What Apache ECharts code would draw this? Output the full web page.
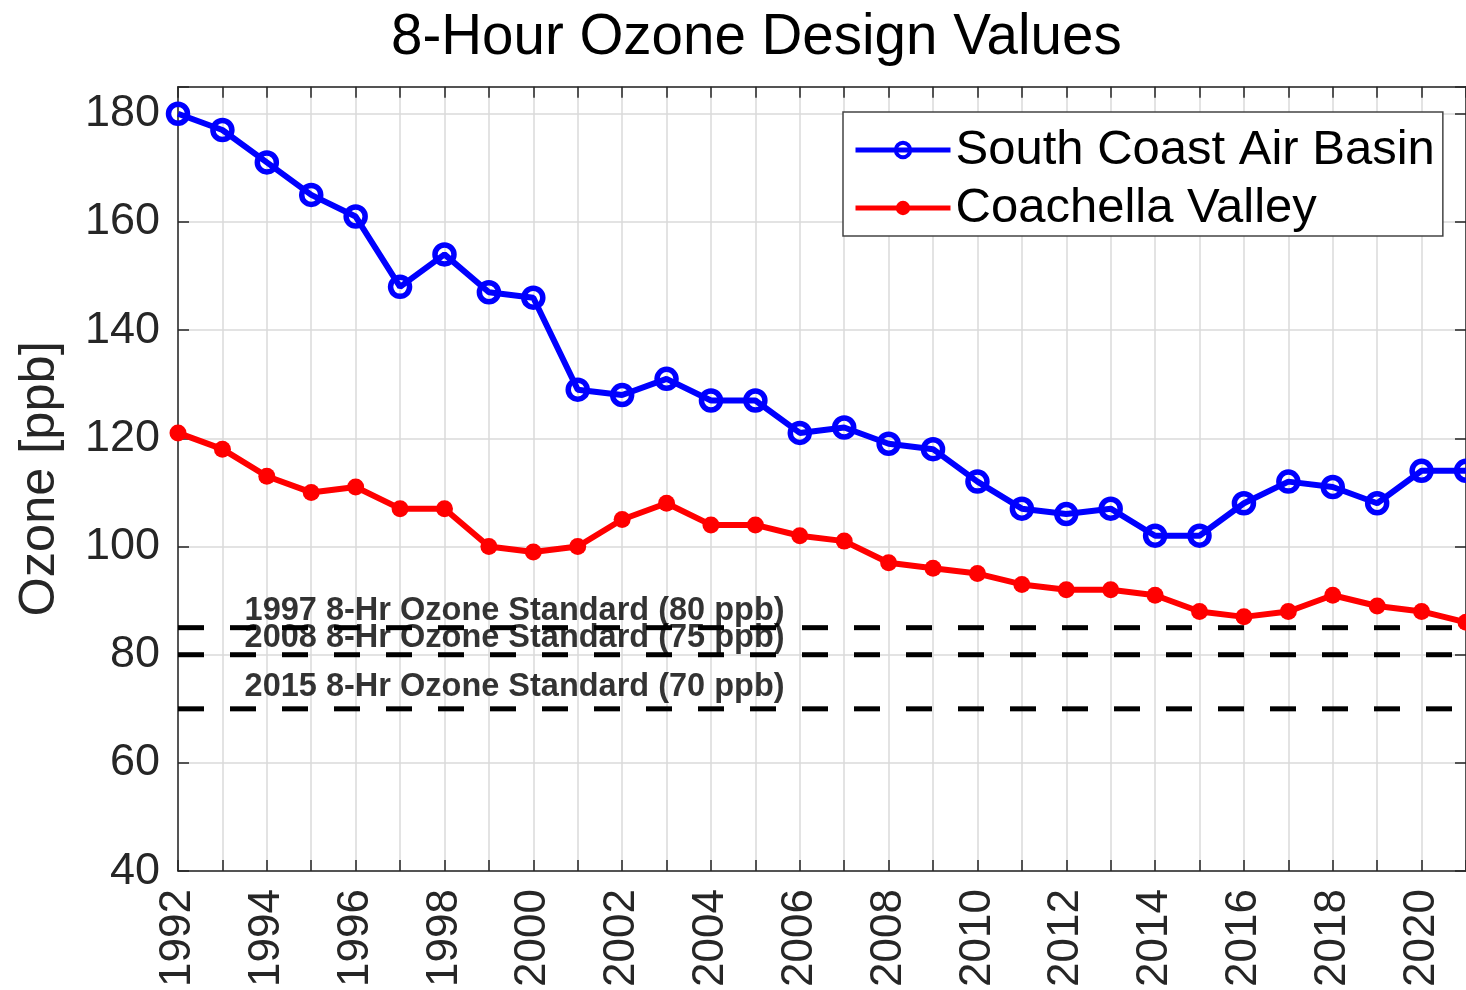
<!DOCTYPE html>
<html>
<head>
<meta charset="utf-8">
<script src="https://cdn.jsdelivr.net/npm/echarts@6/dist/echarts.min.js"></script>
<style>
html,body{margin:0;padding:0;background:#fff;}
#main{width:1466px;height:990px;}
</style>
</head>
<body>
<div id="main"></div>
<script>
const years = [1992,1993,1994,1995,1996,1997,1998,1999,2000,2001,2002,2003,2004,2005,2006,2007,2008,2009,2010,2011,2012,2013,2014,2015,2016,2017,2018,2019,2020,2021];
const southCoast = [180,177,171,165,161,148,154,147,146,129,128,131,127,127,121,122,119,118,112,107,106,107,102,102,108,112,111,108,114,114];
const coachella = [121,118,113,110,111,107,107,100,99,100,105,108,104,104,102,101,97,96,95,93,92,92,91,88,87,88,91,89,88,86];
const standardLevels = [85, 80, 70];
const standardLabels = ['1997 8-Hr Ozone Standard (80 ppb)', '2008 8-Hr Ozone Standard (75 ppb)', '2015 8-Hr Ozone Standard (70 ppb)'];
const standardLabelY = [88, 83, 74];
const standardLabelX = 1993.5;
const xMin = 1992, xMax = 2021;
const yMin = 40, yMax = 185;

const axisColor = '#262626';
const gridColor = '#dadada';
const font = '"Liberation Sans", Arial, sans-serif';

const series = [];
standardLevels.forEach(function(v, i){
  series.push({
    type: 'line', silent: true, symbol: 'none', z: 1,
    data: [[xMin, v], [xMax, v]],
    lineStyle: {color: '#000', width: 5, type: [26, 26]}
  });
  series.push({
    type: 'scatter', silent: true, symbolSize: 0, z: 5,
    data: [[standardLabelX, standardLabelY[i]]],
    label: {
      show: true, position: 'right', distance: 0,
      formatter: standardLabels[i],
      fontFamily: '"Liberation Sans Narrow", "Arial Narrow", "Liberation Sans", Arial, sans-serif',
      fontWeight: 'bold', fontSize: 32.5, color: '#000'
    }
  });
});
series.push({
  name: 'South Coast Air Basin', type: 'line', z: 3,
  data: years.map(function(y, i){ return [y, southCoast[i]]; }),
  symbol: 'circle', symbolSize: 19,
  lineStyle: {color: '#0000ff', width: 6},
  itemStyle: {color: 'rgba(0,0,0,0)', borderColor: '#0000ff', borderWidth: 5.5},
  color: '#0000ff'
});
series.push({
  name: 'Coachella Valley', type: 'line', z: 3,
  data: years.map(function(y, i){ return [y, coachella[i]]; }),
  symbol: 'circle', symbolSize: 17,
  lineStyle: {color: '#ff0000', width: 6},
  itemStyle: {color: '#ff0000'},
  color: '#ff0000'
});

const chart = echarts.init(document.getElementById('main'));
chart.setOption({
  animation: false,
  backgroundColor: '#fff',
  title: {
    text: '8-Hour Ozone Design Values',
    left: 386, top: 5,
    textStyle: {fontFamily: font, fontSize: 56.5, fontWeight: 'normal', color: '#000'}
  },
  legend: {
    left: 843, top: 112, orient: 'vertical',
    data: [
      {name: 'South Coast Air Basin', itemStyle: {borderWidth: 4}},
      {name: 'Coachella Valley', itemStyle: {borderWidth: 0}}
    ],
    backgroundColor: '#fff', borderColor: '#444', borderWidth: 1.5, borderRadius: 0,
    padding: [12, 8, 2, 10], itemGap: 6,
    itemWidth: 95, itemHeight: 18,
    lineStyle: {width: 5},
    textStyle: {fontFamily: font, fontSize: 49, color: '#000', lineHeight: 52}
  },
  grid: {left: 178, right: -2.5, top: 86.7, bottom: 118.3, containLabel: false},
  xAxis: [{
    type: 'value', min: xMin, max: xMax, interval: 1, position: 'bottom',
    axisLine: {show: true, lineStyle: {color: axisColor, width: 1.5}},
    axisTick: {show: true, inside: true, length: 11, lineStyle: {color: axisColor, width: 1.5}},
    axisLabel: {
      rotate: 90, margin: 18, color: axisColor, fontFamily: font, fontSize: 44,
      formatter: function(v){ return (v % 2 === 0) ? String(v) : ''; }
    },
    splitLine: {show: true, lineStyle: {color: gridColor, width: 1.5}}
  }, {
    type: 'value', min: xMin, max: xMax, interval: 1, position: 'top',
    axisLine: {show: true, onZero: false, lineStyle: {color: axisColor, width: 1.5}},
    axisTick: {show: true, inside: true, length: 11, lineStyle: {color: axisColor, width: 1.5}},
    axisLabel: {show: false}, splitLine: {show: false}
  }],
  yAxis: [{
    type: 'value', min: yMin, max: yMax, interval: 20, position: 'left',
    name: 'Ozone [ppb]', nameLocation: 'middle', nameGap: 112, nameRotate: 90,
    nameTextStyle: {fontFamily: font, fontSize: 50.5, color: axisColor},
    axisLine: {show: true, lineStyle: {color: axisColor, width: 1.5}},
    axisTick: {show: true, inside: true, length: 11, lineStyle: {color: axisColor, width: 1.5}},
    axisLabel: {
      margin: 18, color: axisColor, fontFamily: font, fontSize: 45,
      formatter: function(v){ return (v % 20 === 0) ? String(v) : ''; }
    },
    splitLine: {show: true, lineStyle: {color: gridColor, width: 1.5}}
  }, {
    type: 'value', min: yMin, max: yMax, interval: 20, position: 'right',
    axisLine: {show: true, onZero: false, lineStyle: {color: axisColor, width: 1.5}},
    axisTick: {show: true, inside: true, length: 11, lineStyle: {color: axisColor, width: 1.5}},
    axisLabel: {show: false}, splitLine: {show: false}
  }],
  series: series
});
</script>
</body>
</html>
